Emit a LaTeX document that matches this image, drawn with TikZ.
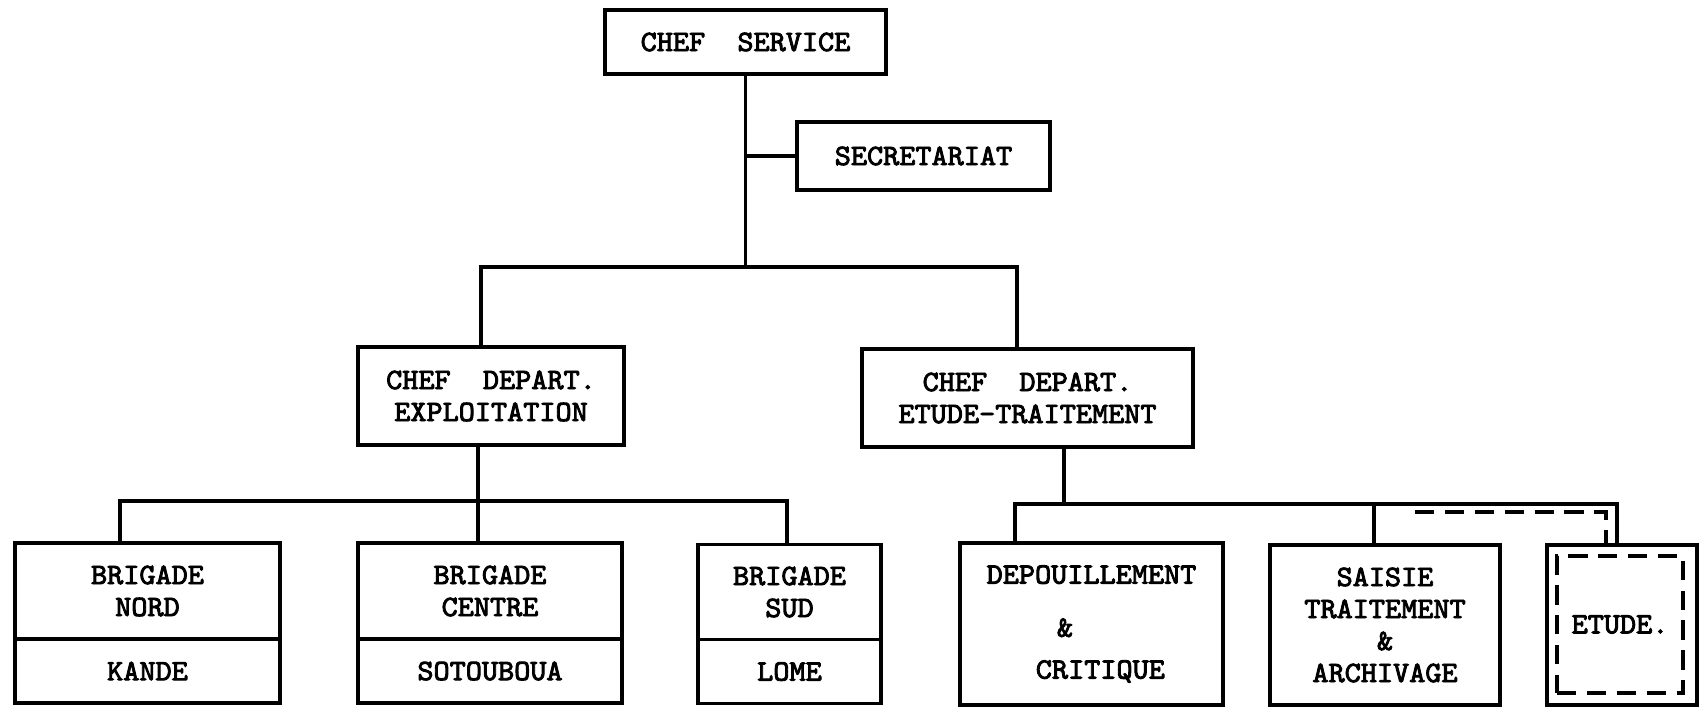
\documentclass[tikz,border=0pt]{standalone}
\usepackage{fontspec}
\newfontfamily\tw[Extension=.otf,FakeStretch=1.04,FakeBold=3]{lmmono10-regular}
\begin{document}
\begin{tikzpicture}[x=0.01cm,y=-0.01cm,
  box/.style={draw,line width=1.1pt,inner sep=0pt,outer sep=0pt,align=center,
    font=\tw\fontsize{8.4}{9.1}\selectfont},
  conn/.style={line width=1.1pt,line cap=rect},
  dashline/.style={line width=1.1pt,dash pattern=on 5.5pt off 3pt}]
\useasboundingbox[fill=white] (0,0) rectangle (1700,707);

% top level
\node[box,minimum width=2.81cm,minimum height=0.64cm] (cs) at (745.5,42) {CHEF\ \ SERVICE};
\node[box,minimum width=2.53cm,minimum height=0.68cm] (sec) at (923.5,156) {SECRETARIAT};

% departments
\node[box,minimum width=2.66cm,minimum height=0.98cm] (dex) at (491,396) {CHEF\ \ DEPART.\\EXPLOITATION};
\node[box,minimum width=3.31cm,minimum height=0.98cm] (det) at (1027.5,398) {CHEF\ \ DEPART.\\ETUDE-TRAITEMENT};

% brigades
\node[box,minimum width=2.65cm,minimum height=0.96cm] (bn) at (147.5,591) {BRIGADE\\NORD};
\node[box,minimum width=2.65cm,minimum height=0.64cm,anchor=north] (bnl) at (bn.south) {KANDE};
\node[box,minimum width=2.64cm,minimum height=0.96cm] (bc) at (490,591) {BRIGADE\\CENTRE};
\node[box,minimum width=2.64cm,minimum height=0.64cm,anchor=north] (bcl) at (bc.south) {SOTOUBOUA};
\node[box,minimum width=1.83cm,minimum height=0.95cm] (bs) at (789.5,592) {BRIGADE\\SUD};
\node[box,minimum width=1.83cm,minimum height=0.64cm,anchor=north] (bsl) at (bs.south) {LOME};

% etude-traitement units
\node[box,minimum width=2.63cm,minimum height=1.62cm] (dep) at (1091.5,624) {DEPOUILLEMENT\\[6pt]\hspace*{-1.8em}\&\\[2.8pt]\hspace*{0.6em}CRITIQUE};
\node[box,minimum width=2.30cm,minimum height=1.60cm] (sai) at (1385,625) {SAISIE\\TRAITEMENT\\\&\\ARCHIVAGE};
\node[box,minimum width=1.50cm,minimum height=1.60cm] (etu) at (1622,625) {};
\node[box,dashline,minimum width=1.26cm,minimum height=1.37cm] (etuin) at (1620,624.5) {\raisebox{-4pt}{ETUDE.}};

% connectors
\coordinate (j1L) at (481,267);
\coordinate (j1R) at (1017,267);
\draw[conn] (cs.south) -- (cs.south |- j1L);
\draw[conn] (sec.west) -- (sec.west -| cs.south);
\draw[conn] (j1L |- dex.north) -- (j1L) -- (j1R) -- (j1R |- det.north);

\coordinate (j2) at (478,501);
\coordinate (j2L) at (120,501);
\coordinate (j2R) at (787,501);
\draw[conn] (j2 |- dex.south) -- (j2 |- bc.north);
\draw[conn] (j2L |- bn.north) -- (j2L) -- (j2R) -- (j2R |- bs.north);

\coordinate (j3) at (1064,504);
\coordinate (j3L) at (1015,504);
\coordinate (j3M) at (1374,504);
\coordinate (j3R) at (1617,504);
\draw[conn] (j3 |- det.south) -- (j3);
\draw[conn] (j3L |- dep.north) -- (j3L) -- (j3R) -- (j3R |- etu.north);
\draw[conn] (j3M) -- (j3M |- sai.north);

\coordinate (d1) at (1415,512);
\coordinate (d2) at (1606,512);
\draw[dashline] (d1) -- (d2) -- (d2 |- etu.north);
\end{tikzpicture}
\end{document}
